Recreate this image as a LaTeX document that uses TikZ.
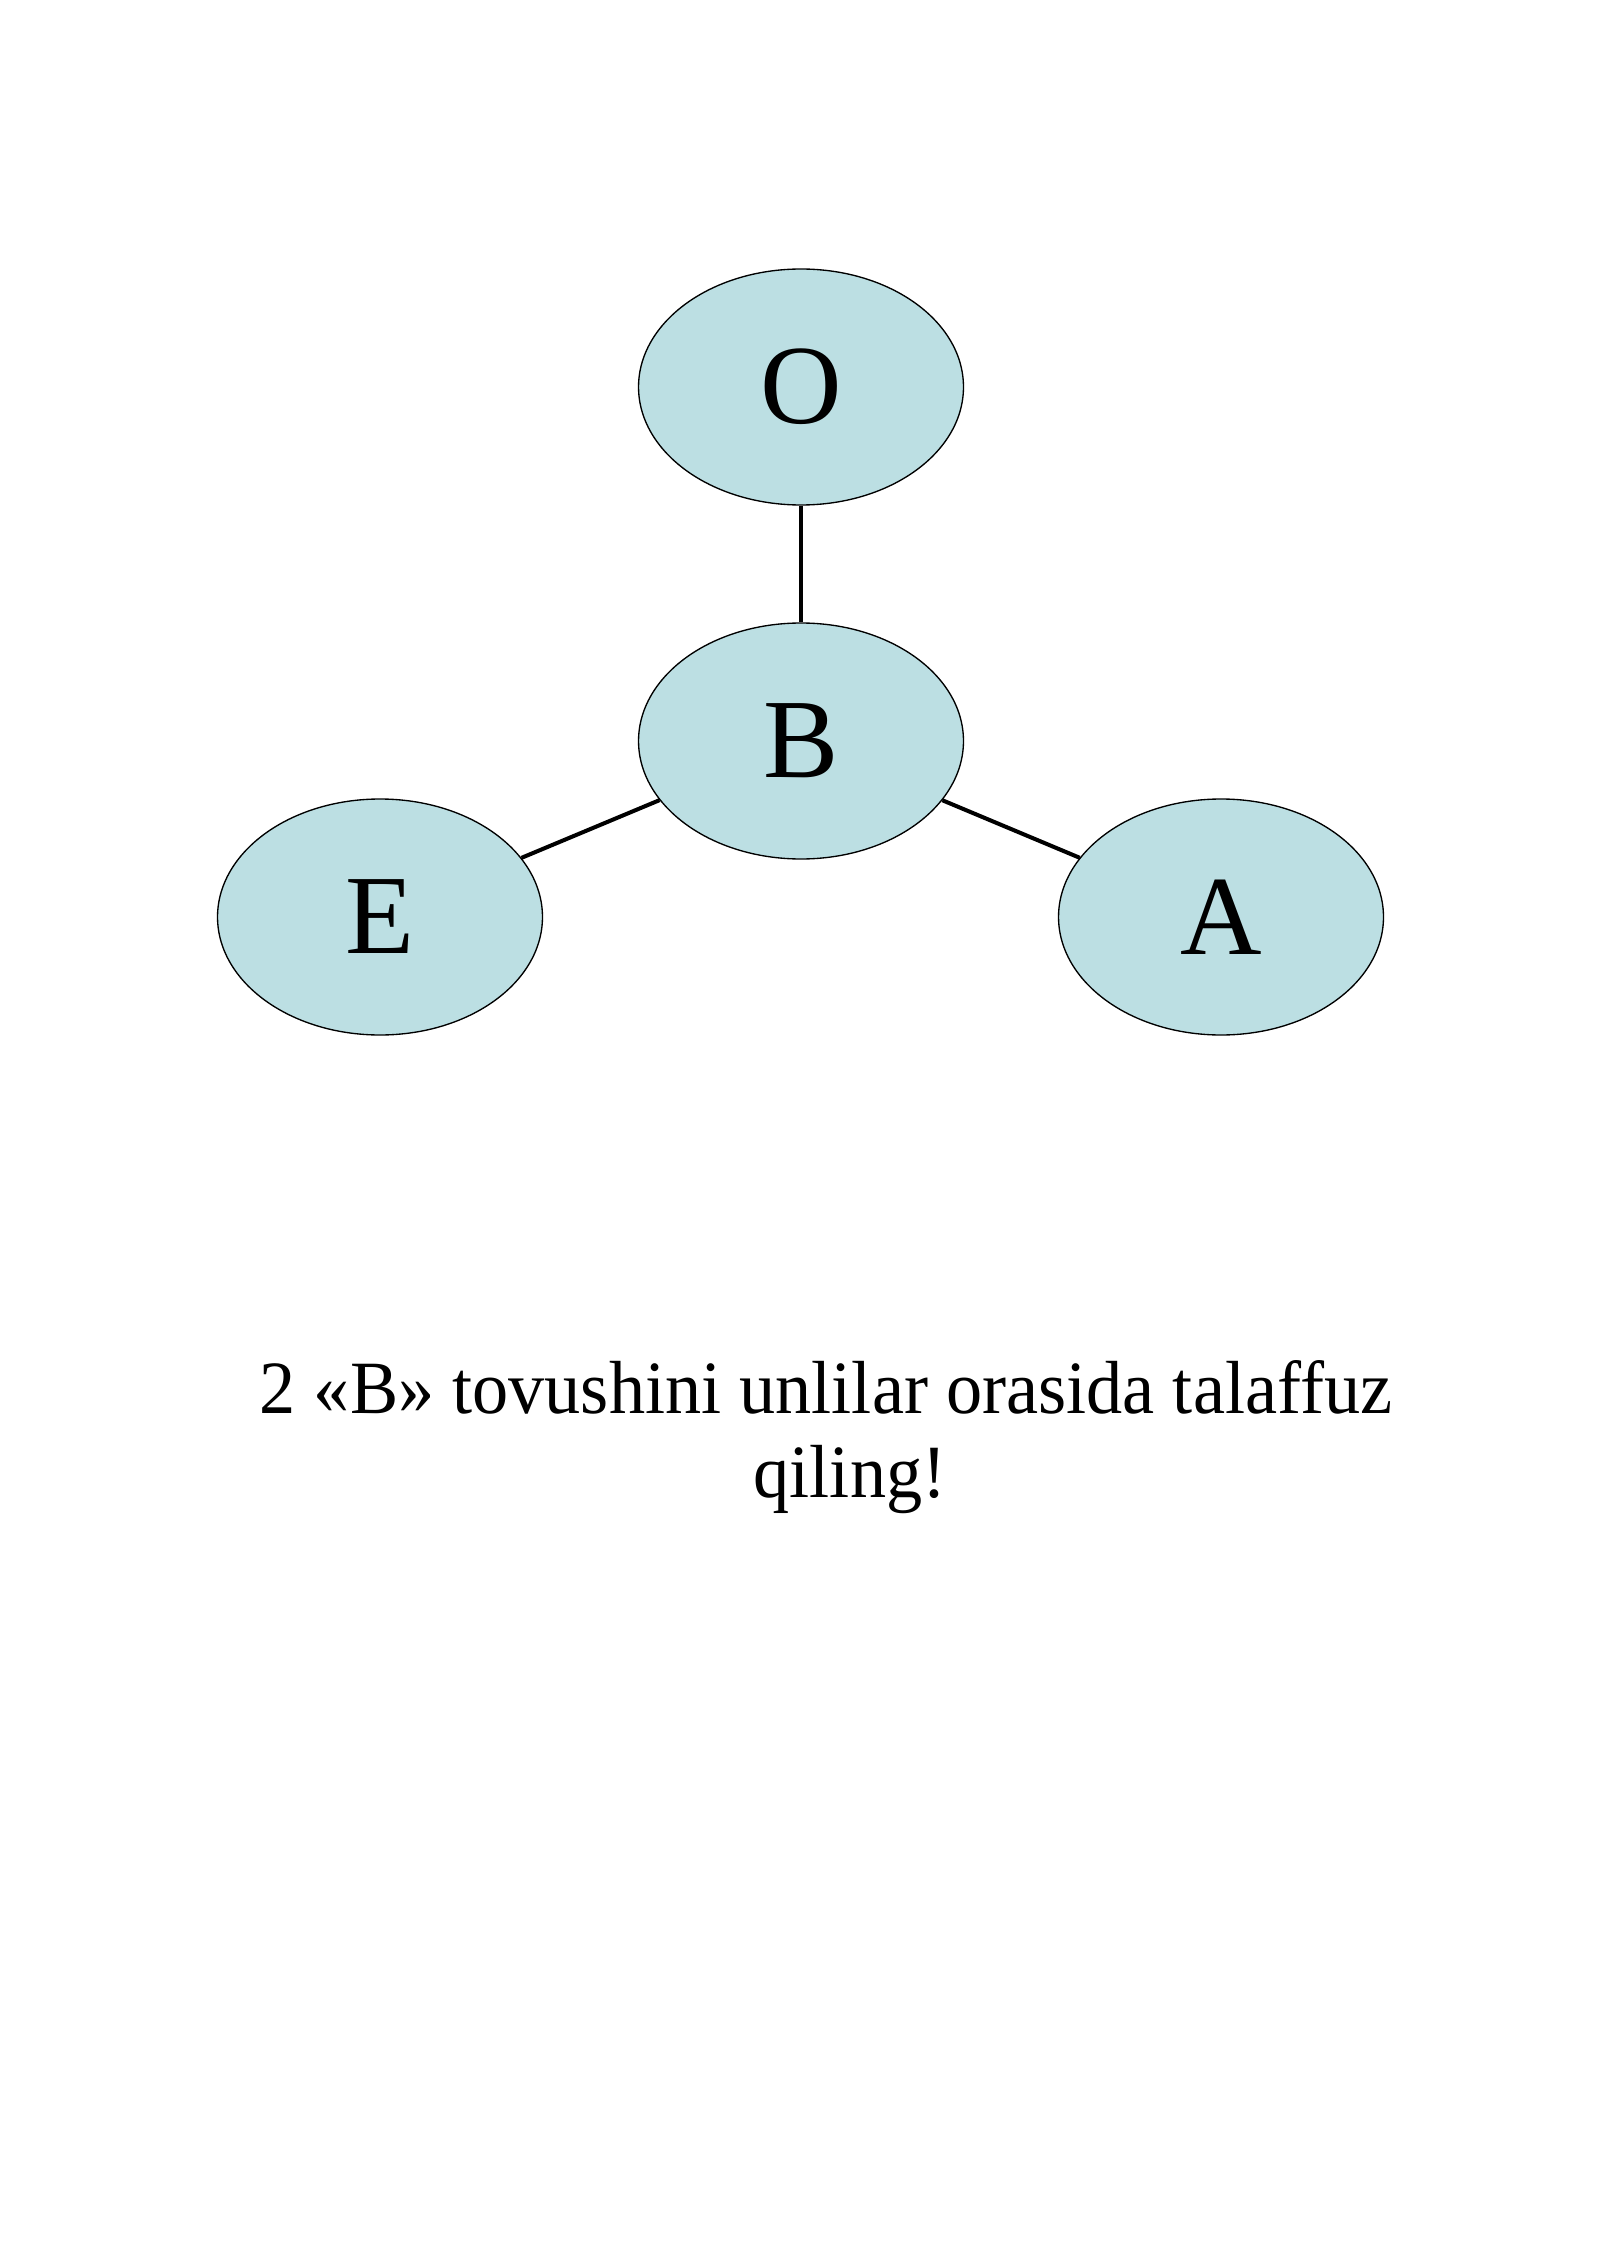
\documentclass[tikz,border=0pt]{standalone}
\usepackage{fontspec}
\setmainfont{Liberation Serif}
\newfontfamily\capfont[FakeStretch=0.96]{Liberation Serif}
\usetikzlibrary{shapes.geometric}
\definecolor{bubble}{HTML}{BCDFE3}
\begin{document}
\begin{tikzpicture}[x=0.37206pt,y=-0.37206pt,
  bub/.style={ellipse,draw=black,line width=0.5pt,fill=bubble,minimum width=120.9pt,minimum height=87.8pt,inner sep=0pt,font=\fontsize{42}{46}\selectfont},
  link/.style={draw=black,line width=1.5pt},
  caption/.style={anchor=base,inner sep=0pt,font=\capfont\fontsize{28}{31.25}\selectfont}]
\useasboundingbox (0,0) rectangle (1600,2262);
\fill[white] (0,0) rectangle (1600,2262);
\node[bub] (o) at (801,387) {O};
\node[bub] (b) at (801,741) {B};
\node[bub] (e) at (380,917) {E};
\node[bub] (a) at (1221,917) {A};
\draw[link] (o) -- (b);
\draw[link] (b) -- (e);
\draw[link] (b) -- (a);
\node[caption] (t1) at (826,1413) {2 «B» tovushini unlilar orasida talaffuz};
\node[caption] (t2) at (850,1497) {qiling!};
\end{tikzpicture}
\end{document}
